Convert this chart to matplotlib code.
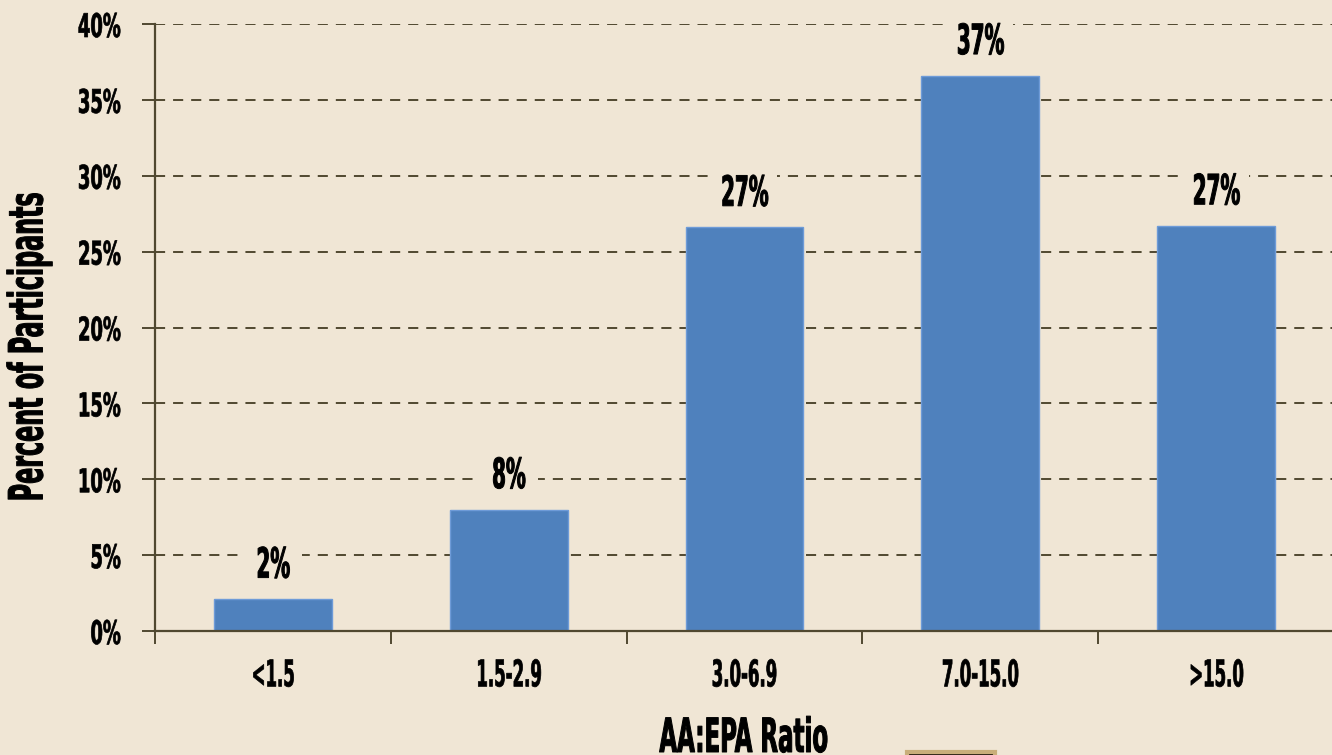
import matplotlib
matplotlib.use("Agg")
import matplotlib.pyplot as plt
from matplotlib import font_manager as fm
from matplotlib.patches import Rectangle
from matplotlib.patheffects import AbstractPathEffect
from matplotlib.transforms import Affine2D, ScaledTranslation

categories = ["<1.5", "1.5-2.9", "3.0-6.9", "7.0-15.0", ">15.0"]
percent = [2.1, 8.0, 26.6, 36.6, 26.7]
bar_labels = ["2%", "8%", "27%", "37%", "27%"]
y_ticks = [0, 5, 10, 15, 20, 25, 30, 35, 40]

bg = "#F0E6D5"
dark = "#504830"


def narrow_font():
    # look for any condensed / narrow face, bold if possible
    found = []
    for f in fm.fontManager.ttflist:
        st = str(f.stretch).lower()
        nm = (f.name + " " + f.fname).lower()
        if "condensed" in st or "narrow" in nm or "condensed" in nm:
            w = f.weight if isinstance(f.weight, int) else (700 if "bold" in str(f.weight) else 400)
            found.append((abs(w - 700), "italic" in f.style or "oblique" in f.style, f.fname, f.name))
    found.sort()
    return found[0] if found else None


class Squeeze(AbstractPathEffect):
    """squeeze glyphs along the baseline (keeping the anchor) and thicken them"""

    def __init__(self, sx, anchor="center", stroke=0.0):
        super().__init__()
        self.sx = sx
        self.anchor = anchor
        self.stroke = stroke

    def draw_path(self, renderer, gc, tpath, affine, rgbFace=None):
        ext = tpath.get_extents()
        if self.anchor == "right":
            cx = ext.x1
        elif self.anchor == "left":
            cx = ext.x0
        else:
            cx = (ext.x0 + ext.x1) / 2
        sq = Affine2D().translate(-cx, 0).scale(self.sx, 1).translate(cx, 0)
        gc0 = renderer.new_gc()
        gc0.copy_properties(gc)
        if self.stroke and rgbFace is not None:
            gc0.set_linewidth(self.stroke)
            gc0.set_foreground(rgbFace)
        renderer.draw_path(gc0, tpath, sq + affine, rgbFace)
        gc0.restore()


nf = narrow_font()
if nf:
    fp = fm.FontProperties(fname=nf[2])
    k = 1.0
else:
    fp = fm.FontProperties(family="DejaVu Sans", weight="bold")
    k = 0.88

fig = plt.figure(figsize=(13.32, 7.55), dpi=100, facecolor=bg)
ax = fig.add_axes([155/1332, 124/755, 1179/1332, 607/755], facecolor=bg)

x = range(len(categories))
ax.bar(x, percent, width=0.5, color="#4F81BD", edgecolor="#6E9BD8",
       linewidth=1, zorder=3)

for i, (v, lab) in enumerate(zip(percent, bar_labels)):
    # background patch so the gridline breaks around the label
    w = 45 + 7 * len(lab)
    ax.add_artist(Rectangle((-w / 2, 14), w, 46, fc=bg, ec="none", zorder=4,
                            transform=ScaledTranslation(i, v, ax.transData)))
    t = ax.annotate(lab, (i, v), xytext=(0, 15.5), textcoords="offset points",
                    ha="center", va="baseline", fontproperties=fp,
                    fontsize=30, color="black", zorder=5)
    t.set_path_effects([Squeeze(0.53 * k, stroke=0.7)])

ax.set_xlim(-0.5, 4.5)
ax.set_ylim(0, 40)
ax.set_yticks(y_ticks)
ax.set_yticklabels([f"{t}%" for t in y_ticks], fontproperties=fp,
                   fontsize=23.5)
ax.set_xticks([i - 0.5 for i in range(len(categories) + 1)])
ax.set_xticklabels([""] * (len(categories) + 1))
ax.set_xticks(list(x), minor=True)
ax.set_xticklabels(categories, minor=True, fontproperties=fp, fontsize=26.5)
for lab in ax.get_yticklabels():
    lab.set_path_effects([Squeeze(0.61 * k, "right", stroke=0.5)])
for lab in ax.get_xticklabels(minor=True):
    lab.set_path_effects([Squeeze(0.5 * k, stroke=0.5)])

ax.tick_params(axis="y", direction="out", length=9.4, width=1.4, color=dark,
               pad=15)
ax.tick_params(axis="x", which="major", direction="out", length=9,
               width=1.4, color=dark)
ax.tick_params(axis="x", which="minor", length=0, pad=19)

ax.grid(axis="y", linestyle=(0, (5.2, 4.1)), color=dark, linewidth=1.4,
        zorder=1)
ax.set_axisbelow(True)
for s in ["top", "right"]:
    ax.spines[s].set_visible(False)
for s in ["left", "bottom"]:
    ax.spines[s].set_color(dark)
    ax.spines[s].set_linewidth(1.6)
    ax.spines[s].set_zorder(4)

yl = fig.text(30/1332, 1 - 347/755, "Percent of Participants", rotation=90,
              ha="center", va="center", fontproperties=fp, fontsize=34)
yl.set_path_effects([Squeeze(0.56 * k, stroke=0.7)])
xl = fig.text(744/1332, 3/755, "AA:EPA Ratio", ha="center", va="baseline",
              fontproperties=fp, fontsize=34)
xl.set_path_effects([Squeeze(0.54 * k, stroke=0.7)])

# little picture frame cut off at the bottom edge
fig.patches.append(Rectangle((907/1332, -0.01), 88/1332, 11/755,
                             transform=fig.transFigure, fc="#2B2214",
                             ec="#C9AE7A", lw=3))

fig.savefig("out.png", dpi=100, facecolor=bg)
